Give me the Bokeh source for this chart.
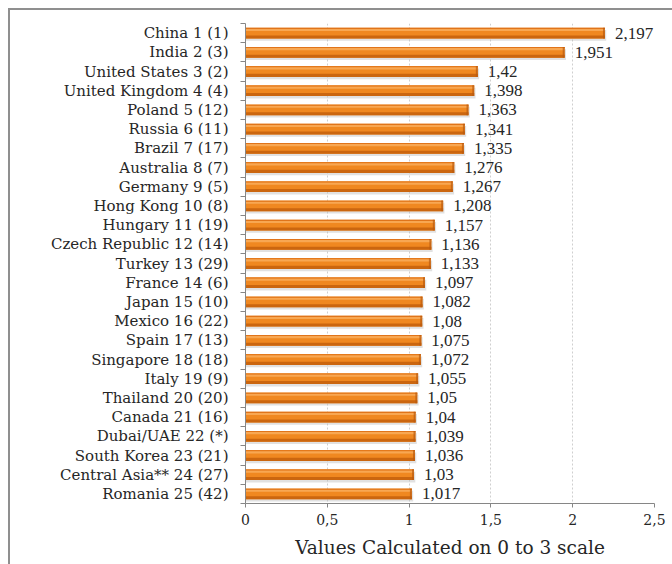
from bokeh.plotting import figure
from bokeh.models import Range1d, FixedTicker, ColumnDataSource, LabelSet
from bokeh.embed import file_html
from bokeh.resources import INLINE
import numpy as np

# Country ranking: "Country rank (previous rank)" and score on a 0-3 scale
countries = [
    "China 1 (1)", "India 2 (3)", "United States 3 (2)", "United Kingdom 4 (4)",
    "Poland 5 (12)", "Russia 6 (11)", "Brazil 7 (17)", "Australia 8 (7)",
    "Germany 9 (5)", "Hong Kong 10 (8)", "Hungary 11 (19)", "Czech Republic 12 (14)",
    "Turkey 13 (29)", "France 14 (6)", "Japan 15 (10)", "Mexico 16 (22)",
    "Spain 17 (13)", "Singapore 18 (18)", "Italy 19 (9)", "Thailand 20 (20)",
    "Canada 21 (16)", "Dubai/UAE 22 (*)", "South Korea 23 (21)",
    "Central Asia** 24 (27)", "Romania 25 (42)",
]
scores = [
    2.197, 1.951, 1.42, 1.398, 1.363, 1.341, 1.335, 1.276, 1.267, 1.208,
    1.157, 1.136, 1.133, 1.097, 1.082, 1.08, 1.075, 1.072, 1.055, 1.05,
    1.04, 1.039, 1.036, 1.03, 1.017,
]
x_ticks = [0, 0.5, 1, 1.5, 2, 2.5]
x_tick_labels = ["0", "0,5", "1", "1,5", "2", "2,5"]
axis_title = "Values Calculated on 0 to 3 scale"

FONT = "DejaVu Serif"
TEXT = "#262626"
AXIS = "#868686"

idx = np.arange(len(countries))
vals = np.array(scores)
source = ColumnDataSource(dict(
    y=idx,
    right=vals,
    label=[str(v).replace(".", ",") for v in scores],
))

p = figure(
    frame_width=409, frame_height=480,
    min_border_left=235, min_border_right=18,
    min_border_top=13, min_border_bottom=61,
    x_range=Range1d(0, 2.5),
    y_range=Range1d(len(countries) - 0.5, -0.5),
    output_backend="svg", toolbar_location=None,
    background_fill_color="white", border_fill_color="white",
    outline_line_color=None,
    styles={
        "margin-left": "8px", "margin-top": "8px",
        "border-left": "2px solid #8f8f8f", "border-top": "2px solid #8f8f8f",
    },
)

# bars: soft drop shadow, body, dark lower edge and light top sheen
H = 0.56
p.hbar(y=idx + 0.12, left=0, right=vals + 0.008, height=H,
       fill_color="#bdbdbd", fill_alpha=0.45, line_color=None)
p.hbar(y=idx, left=0, right=vals, height=H, fill_color="#F08820", line_color=None)
p.hbar(y=idx + H * 0.36, left=0, right=vals, height=H * 0.28,
       fill_color="#CB660F", line_color=None)
p.hbar(y=idx - H * 0.30, left=0, right=vals, height=H * 0.22,
       fill_color="#F8A752", line_color=None)
p.hbar(y=idx - H * 0.44, left=0, right=vals, height=H * 0.1,
       fill_color="#E0741A", line_color=None)
p.hbar(y=idx, left=vals - 0.012, right=vals, height=H,
       fill_color="#B85A10", fill_alpha=0.7, line_color=None)

labels = LabelSet(
    x="right", y="y", text="label", source=source,
    x_offset=10, text_baseline="middle", text_align="left",
    text_font=FONT, text_font_size="17px", text_color=TEXT,
)
p.add_layout(labels)

# x axis and dotted vertical grid
p.xaxis.ticker = FixedTicker(ticks=x_ticks, minor_ticks=[])
p.xaxis.major_label_overrides = {t: s for t, s in zip(x_ticks, x_tick_labels)}
p.xaxis.axis_label = axis_title
p.xaxis.axis_label_text_font = FONT
p.xaxis.axis_label_text_font_style = "normal"
p.xaxis.axis_label_text_font_size = "18.5px"
p.xaxis.axis_label_text_color = TEXT
p.xaxis.axis_label_standoff = 9
p.xaxis.major_label_text_font = FONT
p.xaxis.major_label_text_font_size = "14px"
p.xaxis.major_label_text_color = TEXT
p.xaxis.major_label_standoff = 6
p.xaxis.axis_line_color = AXIS
p.xaxis.major_tick_line_color = AXIS
p.xaxis.major_tick_out = 4
p.xaxis.major_tick_in = 0
p.xgrid.ticker = FixedTicker(ticks=x_ticks[1:])
p.xgrid.grid_line_color = "#cfcfcf"
p.xgrid.grid_line_dash = "2 2"
p.ygrid.grid_line_color = None

# category axis: labels at bar centres, tick marks between categories
p.yaxis.ticker = FixedTicker(ticks=list(idx), minor_ticks=list(np.arange(len(countries) + 1) - 0.5))
p.yaxis.major_label_overrides = {int(i): c for i, c in zip(idx, countries)}
p.yaxis.major_label_text_font = FONT
p.yaxis.major_label_text_font_size = "15px"
p.yaxis.major_label_text_color = TEXT
p.yaxis.major_label_standoff = 12
p.yaxis.major_tick_line_color = None
p.yaxis.major_tick_out = 0
p.yaxis.major_tick_in = 0
p.yaxis.minor_tick_line_color = AXIS
p.yaxis.minor_tick_out = 5
p.yaxis.minor_tick_in = 0
p.yaxis.axis_line_color = AXIS

open("out.html", "w").write(file_html(p, INLINE))
